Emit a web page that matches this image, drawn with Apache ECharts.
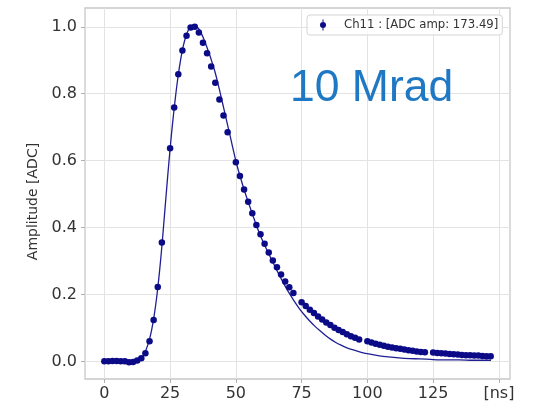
<!DOCTYPE html>
<html>
<head>
<meta charset="utf-8">
<script src="https://cdn.jsdelivr.net/npm/echarts@6/dist/echarts.min.js"></script>
<style>
html,body{margin:0;padding:0;background:#fff;}
#chart{width:538px;height:411px;}
</style>
</head>
<body>
<div id="chart"></div>
<script>
// ---- data ----
const times = [
  0, 1.5625, 3.125, 4.6875, 6.25, 7.8125, 9.375, 10.9375, 12.5, 14.0625, 15.625, 17.1875, 18.75, 20.3125, 21.875,
  25, 26.5625, 28.125, 29.6875, 31.25, 32.8125, 34.375, 35.9375, 37.5, 39.0625, 40.625, 42.1875, 43.75, 45.3125, 46.875,
  50, 51.5625, 53.125, 54.6875, 56.25, 57.8125, 59.375, 60.9375, 62.5, 64.0625, 65.625, 67.1875, 68.75, 70.3125, 71.875,
  75, 76.5625, 78.125, 79.6875, 81.25, 82.8125, 84.375, 85.9375, 87.5, 89.0625, 90.625, 92.1875, 93.75, 95.3125, 96.875,
  100, 101.5625, 103.125, 104.6875, 106.25, 107.8125, 109.375, 110.9375, 112.5, 114.0625, 115.625, 117.1875, 118.75, 120.3125, 121.875,
  125, 126.5625, 128.125, 129.6875, 131.25, 132.8125, 134.375, 135.9375, 137.5, 139.0625, 140.625, 142.1875, 143.75, 145.3125, 146.875
];
const amplitudes = [
  0.001, 0.001, 0.002, 0.002, 0.001, 0.001, -0.002, -0.001, 0.003, 0.010, 0.025, 0.061, 0.124, 0.223, 0.356,
  0.637, 0.759, 0.858, 0.929, 0.973, 0.998, 1.000, 0.983, 0.952, 0.921, 0.881, 0.833, 0.783, 0.735, 0.685,
  0.595, 0.554, 0.514, 0.477, 0.443, 0.408, 0.380, 0.352, 0.326, 0.302, 0.282, 0.260, 0.239, 0.222, 0.205,
  0.177, 0.166, 0.155, 0.145, 0.135, 0.126, 0.117, 0.109, 0.101, 0.094, 0.088, 0.082, 0.076, 0.071, 0.066,
  0.061, 0.057, 0.053, 0.050, 0.047, 0.044, 0.042, 0.040, 0.038, 0.036, 0.034, 0.032, 0.030, 0.029, 0.028,
  0.027, 0.026, 0.025, 0.024, 0.023, 0.022, 0.021, 0.020, 0.019, 0.019, 0.018, 0.018, 0.017, 0.016, 0.016
];
const fitTimes = [0, 5, 10, 12, 13, 14, 15, 16, 17, 18, 19, 20, 21, 22, 23, 24, 25, 26, 27, 28, 29, 30, 31, 32, 33, 34, 35, 36, 37, 38, 39, 40, 41, 42, 43, 44, 45, 46, 47, 48, 49, 50, 51, 52, 53, 54, 55, 56, 57, 58, 59, 60, 62, 64, 66, 68, 70, 72, 74, 76, 78, 80, 82, 84, 86, 88, 90, 92, 95, 98, 101, 104, 108, 112, 116, 120, 125, 130, 135, 140, 147];
const fitValues = [0, 0, 0, 0.001, 0.003, 0.009, 0.020, 0.038, 0.062, 0.095, 0.140, 0.198, 0.270, 0.355, 0.450, 0.545, 0.635, 0.716, 0.787, 0.850, 0.901, 0.942, 0.971, 0.991, 1.002, 1.004, 1.001, 0.993, 0.978, 0.960, 0.939, 0.917, 0.893, 0.867, 0.837, 0.804, 0.770, 0.736, 0.702, 0.668, 0.633, 0.599, 0.570, 0.543, 0.517, 0.493, 0.470, 0.447, 0.425, 0.403, 0.383, 0.364, 0.330, 0.298, 0.266, 0.236, 0.208, 0.183, 0.160, 0.140, 0.122, 0.106, 0.092, 0.079, 0.067, 0.057, 0.049, 0.042, 0.034, 0.027, 0.022, 0.018, 0.014, 0.011, 0.009, 0.008, 0.006, 0.005, 0.005, 0.004, 0.004];
const xTickValues = [0, 25, 50, 75, 100, 125, 150];
const xTickLabels = ['0', '25', '50', '75', '100', '125', '[ns]'];
const yTickValues = [0, 0.2, 0.4, 0.6, 0.8, 1.0];
const yTickLabels = ['0.0', '0.2', '0.4', '0.6', '0.8', '1.0'];
const seriesName = 'Ch11 : [ADC amp: 173.49]';
const annotation = '10 Mrad';
const yAxisTitle = 'Amplitude [ADC]';

// ---- chart ----
const chart = echarts.init(document.getElementById('chart'), null, {renderer: 'canvas'});
const font = 'DejaVu Sans';
function lookup(vals, labels, v) {
  for (let i = 0; i < vals.length; i++) if (Math.abs(vals[i] - v) < 1e-6) return labels[i];
  return '';
}
const gridMarks = xTickValues.map(v => ({xAxis: v})).concat(yTickValues.map(v => ({yAxis: v})));

chart.setOption({
  animation: false,
  backgroundColor: '#ffffff',
  grid: {left: 85, right: 28, top: 8, bottom: 32, show: true, borderColor: '#c8c8c8', borderWidth: 1.3, backgroundColor: '#ffffff'},
  xAxis: {
    type: 'value', min: -7.344, max: 154.22,
    axisLine: {show: false, onZero: false},
    axisTick: {show: true, customValues: xTickValues, length: 4, lineStyle: {color: '#b0b0b0', width: 1}},
    axisLabel: {customValues: xTickValues, margin: 7, color: '#333333', fontSize: 16, fontFamily: font,
      formatter: v => lookup(xTickValues, xTickLabels, v)},
    splitLine: {show: false}
  },
  yAxis: {
    type: 'value', min: -0.052, max: 1.056,
    name: yAxisTitle, nameLocation: 'middle', nameRotate: 90, nameGap: 32,
    nameTextStyle: {fontSize: 14, color: '#333333', fontFamily: font, padding: [0, 16, 0, 0]},
    axisLine: {show: false, onZero: false},
    axisTick: {show: true, customValues: yTickValues, length: 4, lineStyle: {color: '#b0b0b0', width: 1}},
    axisLabel: {customValues: yTickValues, margin: 8, color: '#333333', fontSize: 16, fontFamily: font,
      formatter: v => lookup(yTickValues, yTickLabels, v)},
    splitLine: {show: false}
  },
  legend: {
    show: true, left: 307, top: 15, orient: 'horizontal',
    padding: [4, 4, 4, 0],
    backgroundColor: 'rgba(255,255,255,0.8)', borderColor: '#d5d5d5', borderWidth: 1, borderRadius: 3,
    itemWidth: 32, itemHeight: 11,
    textStyle: {fontSize: 11.7, color: '#333333', fontFamily: font},
    data: [{name: seriesName, icon: 'path://M0,5.5L0.01,5.5L0,5.51Z M32,5.5L31.99,5.5L32,5.51Z M15.5,0L16.5,0L16.5,11L15.5,11Z M13,5.5A3,3,0,1,1,19,5.5A3,3,0,1,1,13,5.5Z'}]
  },
  series: [
    {
      name: 'grid', type: 'line', z: 0, data: [],
      markLine: {
        z: 0, silent: true, symbol: ['none', 'none'], label: {show: false},
        lineStyle: {color: '#e3e3e3', type: 'solid', width: 1},
        emphasis: {disabled: true},
        data: gridMarks
      }
    },
    {
      name: 'fit', type: 'line', z: 2,
      data: fitTimes.map((t, i) => [t, fitValues[i]]),
      showSymbol: false, smooth: 0.3,
      lineStyle: {color: '#1f1f93', width: 1.3},
      itemStyle: {color: '#1f1f93'}
    },
    {
      name: seriesName, type: 'scatter', z: 3,
      data: times.map((t, i) => [t, amplitudes[i]]),
      symbol: 'circle', symbolSize: 6.5,
      itemStyle: {color: '#0b0b87', opacity: 1}
    }
  ],
  graphic: [
    {type: 'text', left: 290, top: 66, z: 10,
      style: {text: annotation, fill: '#1f78c4', font: '44.5px "Liberation Sans"'}}
  ]
});
</script>
</body>
</html>
